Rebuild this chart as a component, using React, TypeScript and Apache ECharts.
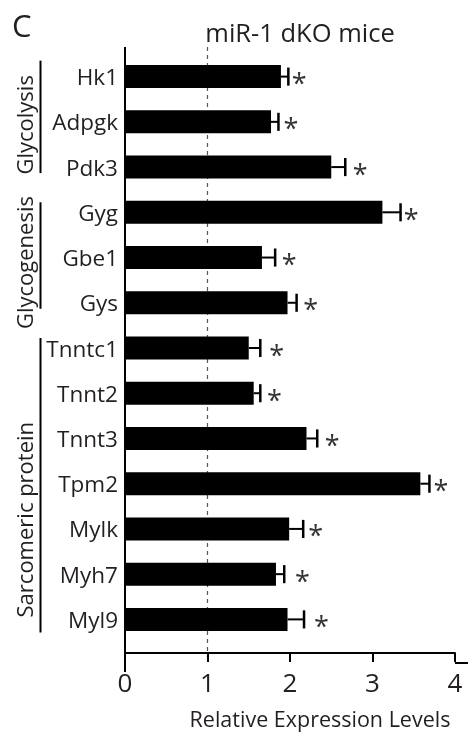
import React, { useEffect, useRef } from "react";
import * as echarts from "echarts";

const categories = ["Hk1", "Adpgk", "Pdk3", "Gyg", "Gbe1", "Gys", "Tnntc1", "Tnnt2", "Tnnt3", "Tpm2", "Mylk", "Myh7", "Myl9"];
const values = [1.89, 1.77, 2.5, 3.12, 1.66, 1.97, 1.5, 1.56, 2.2, 3.58, 1.99, 1.83, 1.97];
const errors = [0.09, 0.09, 0.17, 0.22, 0.16, 0.11, 0.14, 0.08, 0.13, 0.11, 0.17, 0.1, 0.2];
const starPositions = [2.11, 2.01, 2.85, 3.47, 1.99, 2.25, 1.84, 1.81, 2.51, 3.83, 2.31, 2.15, 2.38];
const xTicks = [0, 1, 2, 3, 4];
const referenceLevel = 1;
const groupNames = ["Glycolysis", "Glycogenesis", "Sarcomeric protein"];
const groupFirst = [0, 3, 6];
const groupLast = [2, 5, 12];
const title = "miR-1 dKO mice";
const panelLetter = "C";
const xAxisTitle = "Relative Expression Levels";

const FONT = "'Open Sans', 'Noto Sans', sans-serif";
const TEXT = "#231f20";

// layout constants
const GRID_LEFT = 125;
const GRID_TOP = 54;
const GRID_HEIGHT = 598;
const AXIS_OFFSET = 11;
const groupLabelShift = [3, 5, 36];
const bracketTopPad = [16, 10, 10];
const bracketBottomPad = [6, 6, 13];

export default function App() {
  const ref = useRef<HTMLDivElement>(null);
  useEffect(() => {
    if (!ref.current) return;
    const chart = echarts.init(ref.current, undefined, { renderer: "svg" });
    const data = categories.map((c, i) => [values[i], i, errors[i], starPositions[i]]);
    chart.setOption({
      animation: false,
      textStyle: { fontFamily: FONT },
      grid: { left: GRID_LEFT, right: 13, top: GRID_TOP, height: GRID_HEIGHT, containLabel: false },
      xAxis: {
        type: "value",
        min: xTicks[0],
        max: xTicks[xTicks.length - 1],
        interval: 1,
        offset: AXIS_OFFSET,
        splitLine: { show: false },
        axisLine: { show: true, lineStyle: { color: "#000", width: 2 } },
        axisTick: { show: true, length: 9, lineStyle: { color: "#000", width: 2 } },
        axisLabel: { fontSize: 26, color: TEXT, margin: 16, fontFamily: FONT },
        name: xAxisTitle,
        nameLocation: "middle",
        nameGap: 54,
        nameTextStyle: { fontSize: 21.5, color: TEXT, fontFamily: FONT, padding: [0, 0, 0, 60] },
      },
      yAxis: {
        type: "category",
        data: categories,
        inverse: true,
        axisLine: { show: false },
        axisTick: { show: false },
        axisLabel: { fontSize: 22.5, color: TEXT, margin: 7, fontFamily: FONT },
      },
      series: [
        {
          type: "bar",
          data: values,
          barWidth: 23,
          itemStyle: { color: "#000" },
        },
        {
          type: "custom",
          data,
          encode: { x: 0, y: 1 },
          renderItem: (params: any, api: any) => {
            const v = api.value(0);
            const idx = api.value(1);
            const e = api.value(2);
            const s = api.value(3);
            const p0 = api.coord([v, idx]);
            const p1 = api.coord([v + e, idx]);
            const ps = api.coord([s, idx]);
            const half = api.size([0, 1])[1] * 0.2;
            return {
              type: "group",
              children: [
                { type: "line", shape: { x1: p0[0], y1: p0[1], x2: p1[0], y2: p1[1] }, style: { stroke: "#000", lineWidth: 2 } },
                { type: "line", shape: { x1: p1[0], y1: p1[1] - half, x2: p1[0], y2: p1[1] + half }, style: { stroke: "#000", lineWidth: 2.5 } },
                {
                  type: "text",
                  x: ps[0],
                  y: ps[1] + 6,
                  style: { text: "*", fontSize: 27, fill: "#333", align: "center", verticalAlign: "middle", fontFamily: FONT },
                },
              ],
            };
          },
          z: 3,
        },
      ],
    });

    const x0 = chart.convertToPixel({ xAxisIndex: 0 }, 0) as number;
    const xRef = chart.convertToPixel({ xAxisIndex: 0 }, referenceLevel) as number;
    const xMax = chart.convertToPixel({ xAxisIndex: 0 }, xTicks[xTicks.length - 1]) as number;
    const yPix = (i: number) => chart.convertToPixel({ yAxisIndex: 0 }, i) as number;
    const axisY = GRID_TOP + GRID_HEIGHT + AXIS_OFFSET;
    const topY = GRID_TOP - 7;

    const graphics: any[] = [
      { type: "text", x: 300, y: 32, style: { text: title, fontSize: 25.5, fill: TEXT, align: "center", verticalAlign: "middle", fontFamily: FONT } },
      { type: "text", x: 12, y: 25, style: { text: panelLetter, fontSize: 31, fill: TEXT, align: "left", verticalAlign: "middle", fontFamily: FONT } },
      { type: "line", shape: { x1: x0, y1: topY, x2: x0, y2: axisY + 9 }, style: { stroke: "#000", lineWidth: 2 } },
      { type: "line", shape: { x1: xRef, y1: topY, x2: xRef, y2: axisY }, style: { stroke: "#555", lineWidth: 1.2, lineDash: [4, 4] }, z: 0 },
      { type: "line", shape: { x1: xMax, y1: axisY, x2: 470, y2: axisY }, style: { stroke: "#000", lineWidth: 2 } },
    ];
    groupNames.forEach((name, g) => {
      const yA = yPix(groupFirst[g]) - bracketTopPad[g];
      const yB = yPix(groupLast[g]) + bracketBottomPad[g];
      graphics.push({ type: "line", shape: { x1: 40.5, y1: yA, x2: 40.5, y2: yB }, style: { stroke: "#000", lineWidth: 2 } });
      const mid = (yPix(groupFirst[g]) + yPix(groupLast[g])) / 2 + groupLabelShift[g];
      graphics.push({
        type: "text",
        x: 24,
        y: mid,
        rotation: Math.PI / 2,
        style: { text: name, fontSize: 22, fill: TEXT, align: "center", verticalAlign: "middle", fontFamily: FONT },
      });
    });
    chart.setOption({ graphic: graphics });

    return () => chart.dispose();
  }, []);
  return <div ref={ref} style={{ position: "fixed", left: 0, top: 0, width: 468, height: 734 }} />;
}
